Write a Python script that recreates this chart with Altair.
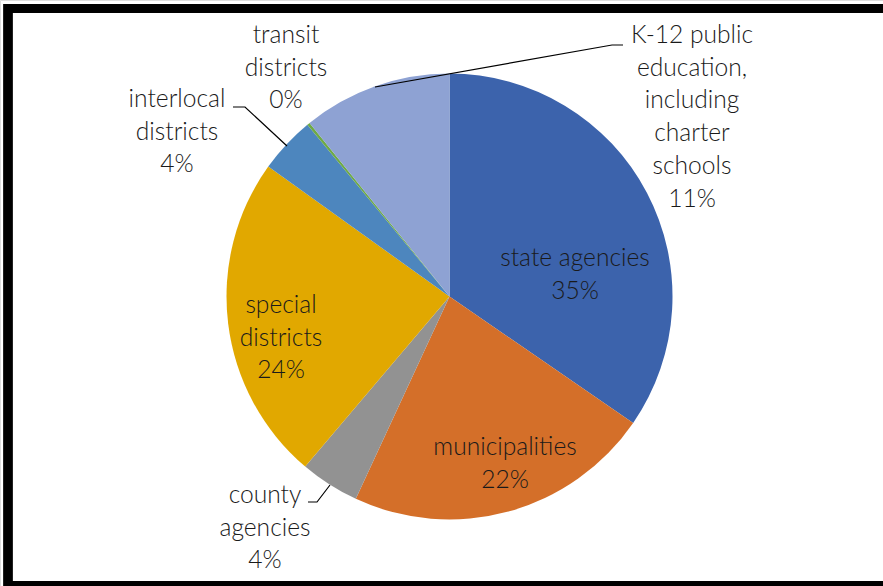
import altair as alt
import pandas as pd

# ---- data ----
names = ["state agencies", "municipalities", "county agencies", "special districts",
         "interlocal districts", "transit districts",
         "K-12 public education, including charter schools"]
values = [34.6, 22.3, 4.3, 23.7, 4.1, 0.2, 10.8]
label_lines = ["state agencies", "municipalities", "county|agencies", "special|districts",
               "interlocal|districts", "transit|districts",
               "K-12 public|education,|including|charter|schools"]
colors = ["#3C63AC", "#D46F29", "#929292", "#E1A800", "#4D86BE", "#6EAA45", "#8EA2D3"]

# ---- layout (positions only) ----
CX, CY, R = 449.5, 296.5, 223
label_pos = {  # x centre, baseline of first line
    "state agencies": (575, 266),
    "municipalities": (505, 455),
    "county agencies": (265, 503),
    "special districts": (281, 313),
    "interlocal districts": (177, 107),
    "transit districts": (286, 43),
    "K-12 public education, including charter schools": (692, 43),
}
leaders = [
    ("k12", [(375, 87), (612, 45), (623, 45)]),
    ("inter", [(233, 107), (245, 107), (287, 146)]),
    ("county", [(308, 502), (317, 502), (330, 485)]),
]

pie_df = pd.DataFrame({"name": names, "value": values, "idx": list(range(len(names)))})

lab_rows = []
for n, v, l in zip(names, values, label_lines):
    x, y = label_pos[n]
    lab_rows.append({"label": f"{l}|{int(v + 0.5)}%", "lx": x, "ly": y})
lab_df = pd.DataFrame(lab_rows)

lead_rows = []
for g, pts in leaders:
    for i, (x, y) in enumerate(pts):
        lead_rows.append({"g": g, "o": i, "x": x, "y": y})
lead_df = pd.DataFrame(lead_rows)

pie = alt.Chart(pie_df).mark_arc(outerRadius=R, strokeWidth=0).encode(
    theta=alt.Theta("value:Q", stack=True),
    order=alt.Order("idx:Q"),
    color=alt.Color("name:N", scale=alt.Scale(domain=names, range=colors), legend=None),
    x=alt.value(CX),
    y=alt.value(CY),
)

labels = alt.Chart(lab_df).transform_calculate(
    lines="split(datum.label, '|')"
).mark_text(align="center", baseline="alphabetic", fontSize=24.6, lineHeight=32.7,
            font="Lato", fontWeight=300, color="#1a1a1a").encode(
    x=alt.X("lx:Q", scale=None, axis=None),
    y=alt.Y("ly:Q", scale=None, axis=None),
    text=alt.Text("lines:N"),
)

lines = alt.Chart(lead_df).mark_line(color="#000000", strokeWidth=1.2).encode(
    x=alt.X("x:Q", scale=None, axis=None),
    y=alt.Y("y:Q", scale=None, axis=None),
    detail="g:N",
    order="o:Q",
)

frame = alt.Chart(pie_df).mark_rect(fill="transparent", stroke="#000000", strokeWidth=8.5).encode(
    x=alt.value(8), x2=alt.value(905), y=alt.value(8.3), y2=alt.value(585.5)
)

chart = alt.layer(pie, lines, labels, frame).properties(
    width=883, height=586, autosize="none", padding=0
).configure_view(strokeWidth=0).configure(background="#ffffff")

chart.save("out.html", embed_options={"renderer": "svg", "actions": False})
